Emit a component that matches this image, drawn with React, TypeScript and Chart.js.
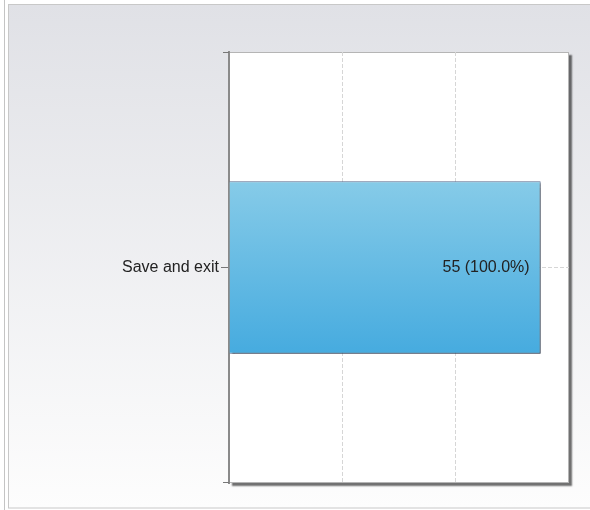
import React, { useEffect, useRef } from "react";
import { Chart, registerables } from "chart.js";

Chart.register(...registerables);

const categories = ["Save and exit"];
const counts = [55];
const percents = [100.0];
const xMax = 60;
const xStep = 20;

const FONT = '"Liberation Sans", Arial, sans-serif';

export default function App() {
  const ref = useRef<HTMLCanvasElement | null>(null);

  useEffect(() => {
    const canvas = ref.current;
    if (!canvas) return;

    const bgPlugin = {
      id: "bgPanel",
      beforeDraw(chart: any) {
        const { ctx, width, height, chartArea: a } = chart;
        ctx.save();
        ctx.fillStyle = "#ffffff";
        ctx.fillRect(0, 0, width, height);
        ctx.strokeStyle = "#c4c4c4";
        ctx.lineWidth = 1;
        ctx.beginPath();
        ctx.moveTo(4.5, 0);
        ctx.lineTo(4.5, height);
        ctx.stroke();
        const g = ctx.createLinearGradient(0, 4, 0, 508);
        g.addColorStop(0, "#e0e1e6");
        g.addColorStop(1, "#fdfdfd");
        ctx.fillStyle = g;
        ctx.fillRect(8, 4, width - 8, 504);
        ctx.strokeStyle = "#c8c8c8";
        ctx.strokeRect(8.5, 4.5, width + 10, 503.5);
        // plot area with shadow
        ctx.shadowColor = "rgba(0,0,0,0.55)";
        ctx.shadowBlur = 1.5;
        ctx.shadowOffsetX = 3;
        ctx.shadowOffsetY = 3;
        ctx.fillStyle = "#ffffff";
        ctx.fillRect(a.left, a.top, a.right - a.left, a.bottom - a.top);
        ctx.restore();
        ctx.save();
        ctx.strokeStyle = "#b5b5b5";
        ctx.lineWidth = 1;
        ctx.strokeRect(a.left + 0.5, a.top + 0.5, a.right - a.left - 1, a.bottom - a.top - 1);
        ctx.restore();
      },
      beforeDatasetsDraw(chart: any) {
        const ctx = chart.ctx;
        ctx.save();
        ctx.shadowColor = "rgba(0,0,0,0.4)";
        ctx.shadowBlur = 1.5;
        ctx.shadowOffsetX = 2;
        ctx.shadowOffsetY = 2;
      },
      afterDatasetsDraw(chart: any) {
        const ctx = chart.ctx;
        ctx.restore();
        const meta = chart.getDatasetMeta(0);
        ctx.save();
        ctx.font = `16px ${FONT}`;
        ctx.fillStyle = "#222222";
        ctx.textAlign = "right";
        ctx.textBaseline = "middle";
        meta.data.forEach((el: any, i: number) => {
          ctx.fillText(`${counts[i]} (${percents[i].toFixed(1)}%)`, el.x - 11, el.y);
        });
        ctx.restore();
      },
      afterDraw(chart: any) {
        const { ctx, chartArea: a } = chart;
        ctx.save();
        ctx.strokeStyle = "#777777";
        ctx.lineWidth = 1;
        ctx.beginPath();
        ctx.moveTo(a.left - 6, a.top + 0.5);
        ctx.lineTo(a.left, a.top + 0.5);
        ctx.moveTo(a.left - 6, a.bottom - 0.5);
        ctx.lineTo(a.left, a.bottom - 0.5);
        ctx.stroke();
        ctx.restore();
      },
    };

    const chart = new Chart(canvas, {
      type: "bar",
      data: {
        labels: categories,
        datasets: [
          {
            data: counts,
            backgroundColor: (c: any) => {
              const ch = c.chart;
              const a = ch.chartArea;
              const ys = ch.scales && ch.scales.y;
              if (!a || !ys) return "#66bbe3";
              const center = ys.getPixelForValue(c.dataIndex ?? 0);
              const half = ((a.bottom - a.top) / categories.length) * 0.8 * 0.5 / 2;
              const g = ch.ctx.createLinearGradient(0, center - half, 0, center + half);
              g.addColorStop(0, "#86cbe8");
              g.addColorStop(1, "#46abdf");
              return g;
            },
            borderColor: "#56698c",
            borderWidth: 1,
            categoryPercentage: 0.8,
            barPercentage: 0.5,
          },
        ],
      },
      options: {
        indexAxis: "y",
        responsive: false,
        animation: false,
        devicePixelRatio: 1,
        layout: { padding: { left: 0, top: 52, right: 21, bottom: 27 } },
        plugins: {
          legend: { display: false },
          title: { display: false },
          tooltip: { enabled: false },
        },
        scales: {
          x: {
            min: 0,
            max: xMax,
            ticks: { display: false, stepSize: xStep },
            border: { display: false, dash: [4, 2] },
            grid: {
              drawTicks: false,
              color: (c: any) =>
                c.tick && (c.tick.value === 0 || c.tick.value === xMax) ? "rgba(0,0,0,0)" : "#d6d6d6",
            },
            afterFit(scale: any) {
              scale.height = 0;
            },
          },
          y: {
            offset: true,
            ticks: { color: "#222222", font: { family: FONT, size: 16 }, padding: 2 },
            border: { display: true, color: "#8a8a8a", width: 2, dash: [4, 2] },
            grid: {
              offset: false,
              color: "#d6d6d6",
              tickLength: 8,
              tickColor: "#777777",
              tickBorderDash: [],
            },
            afterFit(scale: any) {
              scale.width = 229;
            },
          },
        },
      },
      plugins: [bgPlugin],
    } as any);

    return () => chart.destroy();
  }, []);

  return (
    <div style={{ position: "absolute", left: 0, top: 0, width: 590, height: 510 }}>
      <canvas ref={ref} width={590} height={510} style={{ display: "block" }} />
    </div>
  );
}
